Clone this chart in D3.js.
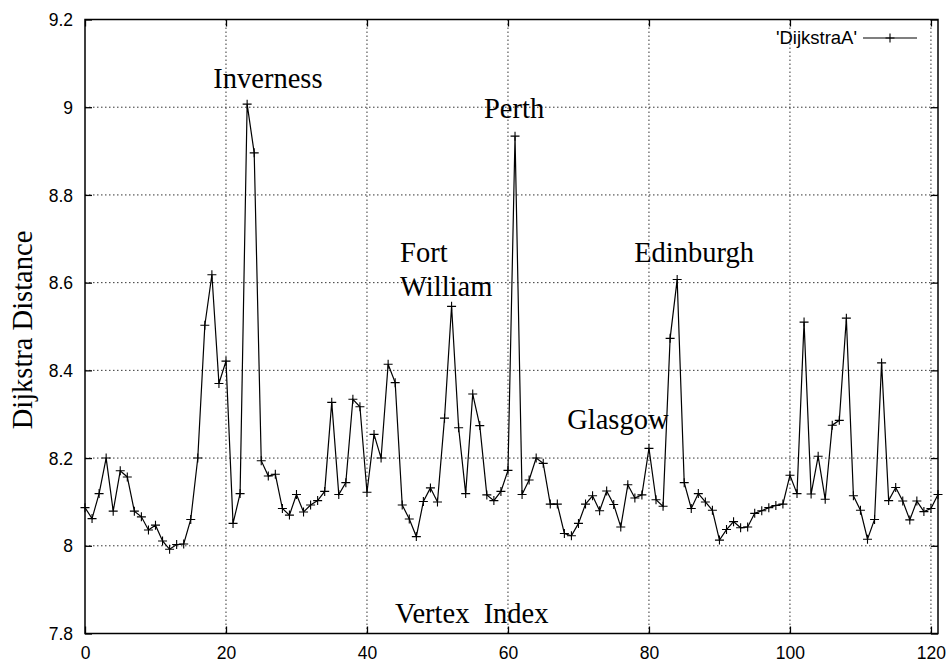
<!DOCTYPE html>
<html>
<head>
<meta charset="utf-8">
<script src="https://cdn.jsdelivr.net/npm/d3@7"></script>
<style>
  body { margin: 0; background: #fff; }
  svg { display: block; }
  .tick-label { font-family: 'Liberation Sans', Arial, sans-serif; font-size: 17.5px; fill: #000; }
  .serif { font-family: 'Liberation Serif', 'Times New Roman', serif; font-size: 28.5px; fill: #000; }
  .grid line { stroke: #000; stroke-width: 0.8; stroke-dasharray: 1.5 2.5; }
</style>
</head>
<body>
<svg id="chart" width="951" height="662"></svg>
<script>
// Dijkstra distance for each vertex (index 0..121)
const distances = [
    8.087, 8.062, 8.119, 8.200, 8.079, 8.171, 8.157, 8.079, 8.066, 8.036,
    8.047, 8.011, 7.992, 8.003, 8.004, 8.060, 8.200, 8.503, 8.618, 8.370,
    8.421, 8.051, 8.119, 9.007, 8.896, 8.194, 8.159, 8.163, 8.085, 8.070,
    8.117, 8.077, 8.093, 8.103, 8.124, 8.327, 8.117, 8.144, 8.334, 8.317,
    8.122, 8.254, 8.200, 8.414, 8.372, 8.093, 8.061, 8.021, 8.101, 8.132,
    8.100, 8.291, 8.546, 8.269, 8.119, 8.346, 8.274, 8.116, 8.103, 8.124,
    8.172, 8.934, 8.117, 8.150, 8.200, 8.188, 8.095, 8.095, 8.028, 8.023,
    8.051, 8.095, 8.114, 8.080, 8.125, 8.094, 8.043, 8.139, 8.109, 8.116,
    8.222, 8.105, 8.090, 8.473, 8.607, 8.144, 8.085, 8.119, 8.100, 8.081,
    8.013, 8.037, 8.055, 8.041, 8.043, 8.074, 8.080, 8.087, 8.092, 8.095,
    8.161, 8.119, 8.510, 8.118, 8.204, 8.106, 8.275, 8.286, 8.519, 8.114,
    8.081, 8.015, 8.060, 8.417, 8.103, 8.133, 8.102, 8.059, 8.102, 8.078,
    8.085, 8.117
];

const xTicks = [0, 20, 40, 60, 80, 100, 120];
const yTicks = [7.8, 8.0, 8.2, 8.4, 8.6, 8.8, 9.0, 9.2];
const cityNames = ['Inverness', 'Perth', 'Fort', 'William', 'Edinburgh', 'Glasgow'];
const seriesName = "'DijkstraA'";

const svg = d3.select('#chart');
const margin = { top: 19.5, right: 13, bottom: 28.5, left: 85 };
const width = +svg.attr('width') - margin.left - margin.right;
const height = +svg.attr('height') - margin.top - margin.bottom;

const x = d3.scaleLinear().domain([0, 121]).range([0, width]);
const y = d3.scaleLinear().domain([7.8, 9.2]).range([height, 0]);

const g = svg.append('g').attr('transform', `translate(${margin.left},${margin.top})`);

// dotted grid
const grid = g.append('g').attr('class', 'grid');
grid.selectAll('.gx')
    .data(xTicks.filter(t => t > 0))
    .enter().append('line')
    .attr('x1', d => x(d)).attr('x2', d => x(d))
    .attr('y1', 0).attr('y2', height);
grid.selectAll('.gy')
    .data(yTicks.filter(t => t > 7.8 && t < 9.2))
    .enter().append('line')
    .attr('x1', 0).attr('x2', width)
    .attr('y1', d => y(d)).attr('y2', d => y(d));

// inward ticks on all four sides
const tickLen = 7;
function styleAxis(sel) {
    sel.select('.domain').remove();
    sel.selectAll('.tick line').attr('stroke', '#000').attr('stroke-width', 1.3);
    sel.selectAll('.tick text').attr('class', 'tick-label').attr('font-family', null).attr('font-size', null);
}

const xAxisG = g.append('g')
    .attr('transform', `translate(0,${height})`)
    .call(d3.axisBottom(x).tickValues(xTicks).tickSize(-tickLen).tickFormat(d3.format('d')))
    .call(styleAxis);
xAxisG.selectAll('.tick text').attr('y', 13).attr('dy', '0.71em');

g.append('g')
    .call(d3.axisTop(x).tickValues(xTicks).tickSize(-tickLen).tickFormat(''))
    .call(styleAxis);

const yAxisG = g.append('g')
    .call(d3.axisLeft(y).tickValues(yTicks).tickSize(-tickLen).tickFormat(d3.format('~g')))
    .call(styleAxis);
yAxisG.selectAll('.tick text').attr('x', -12).attr('dy', '0.35em');

g.append('g')
    .attr('transform', `translate(${width},0)`)
    .call(d3.axisRight(y).tickValues(yTicks).tickSize(-tickLen).tickFormat(''))
    .call(styleAxis);

// frame
g.append('rect')
    .attr('width', width).attr('height', height)
    .attr('fill', 'none').attr('stroke', '#000').attr('stroke-width', 1.5);

// data line with '+' markers
const line = d3.line().x((d, i) => x(i)).y(d => y(d));
g.append('path')
    .datum(distances)
    .attr('fill', 'none')
    .attr('stroke', '#000')
    .attr('stroke-width', 1.2)
    .attr('d', line);

g.selectAll('.pt')
    .data(distances)
    .enter().append('path')
    .attr('class', 'pt')
    .attr('transform', (d, i) => `translate(${x(i)},${y(d)})`)
    .attr('d', 'M-4.5,0H4.5M0,-4.5V4.5')
    .attr('stroke', '#000')
    .attr('stroke-width', 1.1);

// city annotations (data coordinates)
const labelPos = [[18.2, 9.044], [56.6, 8.975], [44.7, 8.647], [44.7, 8.570], [77.9, 8.647], [68.4, 8.266]];
g.selectAll('.city')
    .data(cityNames)
    .enter().append('text')
    .attr('class', 'serif')
    .attr('x', (d, i) => x(labelPos[i][0]))
    .attr('y', (d, i) => y(labelPos[i][1]))
    .text(d => d);

// axis titles
g.append('text')
    .attr('class', 'serif')
    .attr('x', 310)
    .attr('y', height - 11)
    .style('white-space', 'pre')
    .text('Vertex  Index');

svg.append('text')
    .attr('class', 'serif')
    .attr('transform', 'translate(32,330) rotate(-90)')
    .attr('text-anchor', 'middle')
    .text('Dijkstra Distance');

// legend
svg.append('text')
    .attr('class', 'tick-label')
    .attr('x', 857)
    .attr('y', 44)
    .attr('text-anchor', 'end')
    .style('font-size', '18.5px')
    .text(seriesName);
svg.append('line')
    .attr('x1', 863).attr('x2', 917)
    .attr('y1', 38).attr('y2', 38)
    .attr('stroke', '#000').attr('stroke-width', 1.2);
svg.append('path')
    .attr('transform', 'translate(890,38)')
    .attr('d', 'M-4.5,0H4.5M0,-4.5V4.5')
    .attr('stroke', '#000').attr('stroke-width', 1.1);
</script>
</body>
</html>
